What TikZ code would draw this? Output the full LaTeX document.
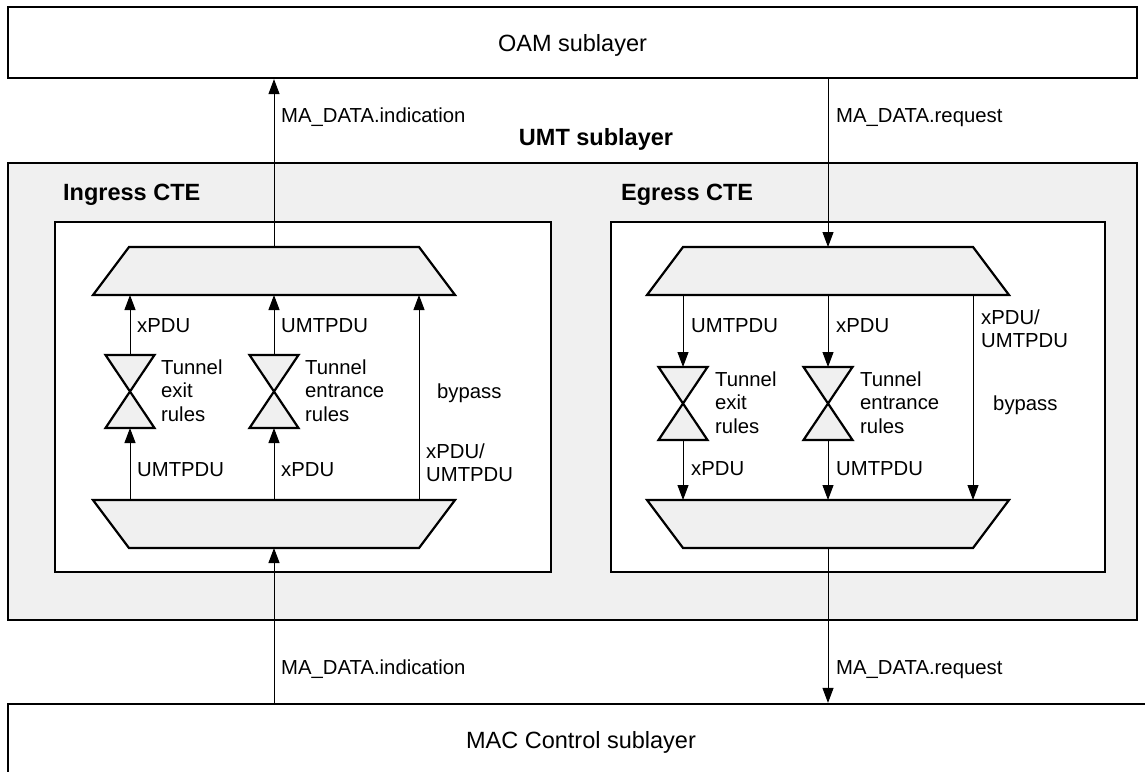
\documentclass[tikz,border=0pt]{standalone}
\usepackage{fontspec}
\setmainfont{Liberation Sans}
\usetikzlibrary{arrows.meta}
\definecolor{panel}{HTML}{F0F0F0}
\begin{document}
\begin{tikzpicture}[x=1pt,y=-1pt,
  box/.style={draw, line width=2.2pt, inner sep=0pt},
  shapebox/.style={inner sep=0pt, outer sep=0pt},
  shapeline/.style={fill=panel, draw, line width=2.2pt, line join=miter},
  arr/.style={line width=1pt, -{Triangle[length=15pt,width=11pt]}},
  lbl/.style={font=\fontsize{20.3}{23.5}\selectfont, inner sep=0pt, anchor=base west},
  mlbl/.style={font=\fontsize{20.3}{23.5}\selectfont, inner sep=0pt, anchor=west, align=left},
  headtext/.style={font=\fontsize{23.5}{28}\selectfont, inner sep=0pt, text depth=0pt},
  boldhead/.style={font=\fontsize{23.5}{28}\selectfont\bfseries, inner sep=0pt}]
\useasboundingbox (0,0) rectangle (1145,771);
\clip (0,0) rectangle (1145,771);

% layers
\node[box, minimum width=1129pt, minimum height=71pt, headtext] (oam) at (572.5,42.5) {OAM sublayer};
\node[box, fill=panel, minimum width=1129pt, minimum height=457pt] (umt) at (572.5,391.5) {};
\node[box, minimum width=1146pt, minimum height=72pt, headtext] (mac) at (581,740) {MAC Control sublayer};
\node[boldhead, anchor=base] (umtlbl) at (596,145) {UMT sublayer};

% CTE frames
\node[box, fill=white, minimum width=496pt, minimum height=350pt] (ing) at (303,397) {};
\node[box, fill=white, minimum width=494pt, minimum height=350pt] (egr) at (858,397) {};
\node[boldhead, anchor=base west] (inglbl) at (63,200) {Ingress CTE};
\node[boldhead, anchor=base west] (egrlbl) at (621,200) {Egress CTE};

% ---------- Ingress CTE ----------
\node[shapebox, minimum width=362pt, minimum height=48pt] (itop) at (274,271) {};
\filldraw[shapeline] (itop.south west) -- (itop.south east) -- ([xshift=-36pt]itop.north east) -- ([xshift=36pt]itop.north west) -- cycle;
\node[shapebox, minimum width=362pt, minimum height=48pt] (ibot) at (274,524) {};
\filldraw[shapeline] (ibot.north west) -- (ibot.north east) -- ([xshift=-36pt]ibot.south east) -- ([xshift=36pt]ibot.south west) -- cycle;
\node[shapebox, minimum width=49pt, minimum height=73pt] (ih1) at (130,391.5) {};
\filldraw[shapeline] (ih1.north west) -- (ih1.north east) -- (ih1.south west) -- (ih1.south east) -- cycle;
\node[shapebox, minimum width=49pt, minimum height=73pt] (ih2) at (274,391.5) {};
\filldraw[shapeline] (ih2.north west) -- (ih2.north east) -- (ih2.south west) -- (ih2.south east) -- cycle;

\draw[arr] (ih1.north) -- (ih1.north |- itop.south);
\draw[arr] (ih2.north) -- (ih2.north |- itop.south);
\draw[arr] (ih1.south |- ibot.north) -- (ih1.south);
\draw[arr] (ih2.south |- ibot.north) -- (ih2.south);
\draw[arr] ([xshift=-36pt]ibot.north east) -- ([xshift=-36pt]itop.south east);
\draw[arr] (itop.north) -- (itop.north |- oam.south);
\draw[arr] (ibot.south |- mac.north) -- (ibot.south);

\node[lbl] at (137,332) {xPDU};
\node[lbl] at (281,332) {UMTPDU};
\node[mlbl] at (161,390.5) {Tunnel\\exit\\rules};
\node[mlbl] at (305,390.5) {Tunnel\\entrance\\rules};
\node[lbl] at (437,398) {bypass};
\node[lbl] at (137,476) {UMTPDU};
\node[lbl] at (281,476) {xPDU};
\node[mlbl] at (426,462.8) {xPDU/\\UMTPDU};
\node[lbl] at (281,122) {MA\_DATA.indication};
\node[lbl] at (281,674) {MA\_DATA.indication};

% ---------- Egress CTE ----------
\node[shapebox, minimum width=362pt, minimum height=48pt] (etop) at (828,271) {};
\filldraw[shapeline] (etop.south west) -- (etop.south east) -- ([xshift=-36pt]etop.north east) -- ([xshift=36pt]etop.north west) -- cycle;
\node[shapebox, minimum width=362pt, minimum height=48pt] (ebot) at (828,524) {};
\filldraw[shapeline] (ebot.north west) -- (ebot.north east) -- ([xshift=-36pt]ebot.south east) -- ([xshift=36pt]ebot.south west) -- cycle;
\node[shapebox, minimum width=49pt, minimum height=73pt] (eh1) at (683,403.5) {};
\filldraw[shapeline] (eh1.north west) -- (eh1.north east) -- (eh1.south west) -- (eh1.south east) -- cycle;
\node[shapebox, minimum width=49pt, minimum height=73pt] (eh2) at (828,403.5) {};
\filldraw[shapeline] (eh2.north west) -- (eh2.north east) -- (eh2.south west) -- (eh2.south east) -- cycle;

\draw[arr] (eh1.north |- etop.south) -- (eh1.north);
\draw[arr] (eh2.north |- etop.south) -- (eh2.north);
\draw[arr] (eh1.south) -- (eh1.south |- ebot.north);
\draw[arr] (eh2.south) -- (eh2.south |- ebot.north);
\draw[arr] ([xshift=-36pt]etop.south east) -- ([xshift=-36pt]ebot.north east);
\draw[arr] (etop.north |- oam.south) -- (etop.north);
\draw[arr] (ebot.south) -- (ebot.south |- mac.north);

\node[lbl] at (691,332) {UMTPDU};
\node[lbl] at (836,332) {xPDU};
\node[mlbl] at (981,328.8) {xPDU/\\UMTPDU};
\node[mlbl] at (715,402.5) {Tunnel\\exit\\rules};
\node[mlbl] at (860,402.5) {Tunnel\\entrance\\rules};
\node[lbl] at (993,410) {bypass};
\node[lbl] at (691,475) {xPDU};
\node[lbl] at (836,475) {UMTPDU};
\node[lbl] at (836,122) {MA\_DATA.request};
\node[lbl] at (836,674) {MA\_DATA.request};
\end{tikzpicture}
\end{document}
